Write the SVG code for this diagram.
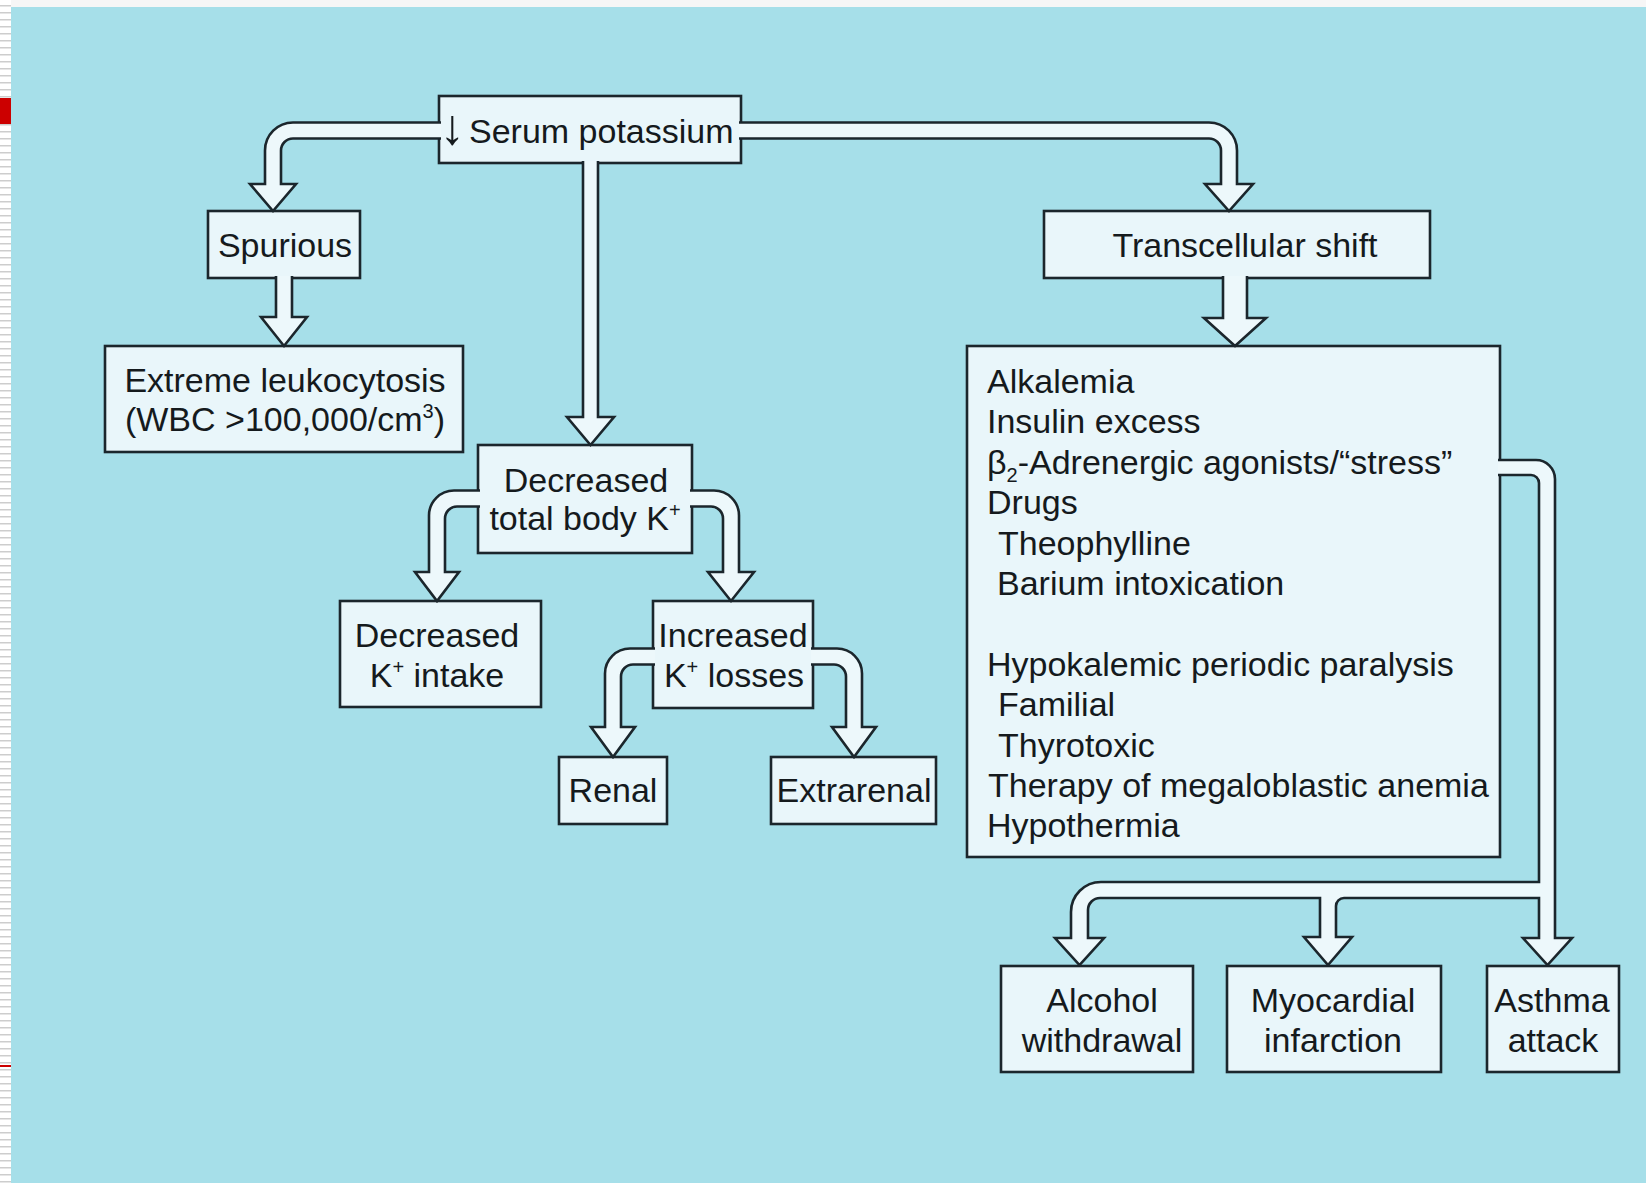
<svg xmlns="http://www.w3.org/2000/svg" width="1646" height="1183" viewBox="0 0 1646 1183">
  <defs>
    <style>
      .box { fill: #e9f6fa; stroke: #1b262c; stroke-width: 2.6; }
      .pipe { fill: #edf8fb; stroke: #1b262c; stroke-width: 2.6; stroke-linejoin: miter; }
      .lbl { font-family: "Liberation Sans", Arial, sans-serif; font-size: 34px; fill: #151a1d; }
      .mid { text-anchor: middle; }
    </style>
    <pattern id="ruled" width="11" height="7" patternUnits="userSpaceOnUse">
      <rect width="11" height="7" fill="#ffffff"/>
      <rect y="5" width="11" height="1" fill="#cdcdcd"/>
      <rect y="6" width="11" height="1" fill="#e6e6e6"/>
    </pattern>
  </defs>

  <!-- page frame -->
  <rect x="0" y="0" width="1646" height="1183" fill="#f6f6f6"/>
  <rect x="0" y="0" width="11" height="1183" fill="url(#ruled)"/>
  <rect x="0" y="98" width="11" height="26" fill="#cc0000"/>
  <rect x="0" y="1065" width="11" height="2" fill="#cc0000"/>
  <rect x="11" y="7" width="1635" height="1176" fill="#a6dfe9"/>

  <!-- nodes -->
  <g id="serum">
    <rect class="box" x="439" y="96" width="302" height="67"/>
    <text class="lbl" y="143"><tspan x="440" font-size="50" dy="1">↓</tspan><tspan x="469" dy="-1">Serum potassium</tspan></text>
  </g>
  <g id="spurious">
    <rect class="box" x="208" y="211" width="152" height="67"/>
    <text class="lbl mid" x="285" y="257">Spurious</text>
  </g>
  <g id="leukocytosis">
    <rect class="box" x="105" y="346" width="358" height="106"/>
    <text class="lbl mid" x="285" y="392">Extreme leukocytosis</text>
    <text class="lbl mid" x="285" y="431">(WBC &gt;100,000/cm<tspan font-size="20" dy="-13">3</tspan><tspan dy="13">)</tspan></text>
  </g>
  <g id="total-body">
    <rect class="box" x="478" y="445" width="214" height="108"/>
    <text class="lbl mid" x="586" y="492">Decreased</text>
    <text class="lbl mid" x="585" y="530">total body K<tspan font-size="20" dy="-13">+</tspan></text>
  </g>
  <g id="intake">
    <rect class="box" x="340" y="601" width="201" height="106"/>
    <text class="lbl mid" x="437" y="647">Decreased</text>
    <text class="lbl mid" x="437" y="687">K<tspan font-size="20" dy="-13">+</tspan><tspan dy="13"> intake</tspan></text>
  </g>
  <g id="losses">
    <rect class="box" x="653" y="601" width="160" height="107"/>
    <text class="lbl mid" x="733" y="647">Increased</text>
    <text class="lbl mid" x="734" y="687">K<tspan font-size="20" dy="-13">+</tspan><tspan dy="13"> losses</tspan></text>
  </g>
  <g id="renal">
    <rect class="box" x="559" y="757" width="108" height="67"/>
    <text class="lbl mid" x="613" y="802">Renal</text>
  </g>
  <g id="extrarenal">
    <rect class="box" x="771" y="757" width="165" height="67"/>
    <text class="lbl mid" x="854" y="802">Extrarenal</text>
  </g>
  <g id="transcellular">
    <rect class="box" x="1044" y="211" width="386" height="67"/>
    <text class="lbl mid" x="1245" y="257">Transcellular shift</text>
  </g>
  <g id="shift-causes">
    <rect class="box" x="967" y="346" width="533" height="511"/>
    <text class="lbl" x="987" y="393">Alkalemia</text>
    <text class="lbl" x="987" y="433.4">Insulin excess</text>
    <text class="lbl" x="987" y="473.8">β<tspan font-size="20" dy="8">2</tspan><tspan dy="-8">-Adrenergic agonists/“stress”</tspan></text>
    <text class="lbl" x="987" y="514.2">Drugs</text>
    <text class="lbl" x="998" y="554.6">Theophylline</text>
    <text class="lbl" x="997" y="595">Barium intoxication</text>
    <text class="lbl" x="987" y="675.8">Hypokalemic periodic paralysis</text>
    <text class="lbl" x="998" y="716.2">Familial</text>
    <text class="lbl" x="998" y="756.6">Thyrotoxic</text>
    <text class="lbl" x="988" y="797">Therapy of megaloblastic anemia</text>
    <text class="lbl" x="987" y="837.4">Hypothermia</text>
  </g>
  <g id="alcohol">
    <rect class="box" x="1001" y="966" width="192" height="106"/>
    <text class="lbl mid" x="1102" y="1012">Alcohol</text>
    <text class="lbl mid" x="1102" y="1052">withdrawal</text>
  </g>
  <g id="myocardial">
    <rect class="box" x="1227" y="966" width="214" height="106"/>
    <text class="lbl mid" x="1333" y="1012">Myocardial</text>
    <text class="lbl mid" x="1333" y="1052">infarction</text>
  </g>
  <g id="asthma">
    <rect class="box" x="1487" y="966" width="132" height="106"/>
    <text class="lbl mid" x="1552" y="1012">Asthma</text>
    <text class="lbl mid" x="1553" y="1052">attack</text>
  </g>

  <!-- connectors: open-ended pipes that merge into the source box -->
  <g id="connectors">
    <path class="pipe" d="M 441,122.5 H 293 A 28 28 0 0 0 265,150.5 V 184 H 250 L 273,211 L 296,184 H 281 V 150.5 A 12 12 0 0 1 293,138.5 H 441"/>
    <path class="pipe" d="M 583,161 V 417 H 567 L 590.5,445 L 614,417 H 598 V 161"/>
    <path class="pipe" d="M 739,122.5 H 1209 A 28 28 0 0 1 1237,150.5 V 184 H 1253 L 1229,211 L 1205,184 H 1221 V 150.5 A 12 12 0 0 0 1209,138.5 H 739"/>
    <path class="pipe" d="M 276,276 V 317 H 261 L 284,346 L 307,317 H 292 V 276"/>
    <path class="pipe" d="M 1223,276 V 318 H 1204 L 1235,346 L 1266,318 H 1247 V 276"/>
    <path class="pipe" d="M 480,490.5 H 454 A 25 25 0 0 0 429,515.5 V 572 H 415 L 437,601 L 459,572 H 445 V 518.5 A 12 12 0 0 1 457,506.5 H 480"/>
    <path class="pipe" d="M 690,490.5 H 714 A 25 25 0 0 1 739,515.5 V 572 H 754 L 731,601 L 708,572 H 723 V 518.5 A 12 12 0 0 0 711,506.5 H 690"/>
    <path class="pipe" d="M 655,648.5 H 630 A 25 25 0 0 0 605,673.5 V 727 H 591 L 613,757 L 635,727 H 621 V 676.5 A 12 12 0 0 1 633,664.5 H 655"/>
    <path class="pipe" d="M 811,648.5 H 837 A 25 25 0 0 1 862,673.5 V 727 H 876 L 854,757 L 832,727 H 846 V 676.5 A 12 12 0 0 0 834,664.5 H 811"/>
    <path class="pipe" d="M 1498,460 H 1536 A 19 19 0 0 1 1555,479 V 938 H 1572 L 1547.5,965 L 1523,938 H 1539 V 898 H 1344 A 8 8 0 0 0 1336,906 V 937 H 1352 L 1328,965 L 1304,937 H 1320 V 898 H 1100 A 12 12 0 0 0 1088,910 V 938 H 1104 L 1079.5,965 L 1055,938 H 1071 V 912 A 30 30 0 0 1 1101,882 H 1539 V 483 A 8 8 0 0 0 1531,475 H 1498"/>
  </g>
</svg>
